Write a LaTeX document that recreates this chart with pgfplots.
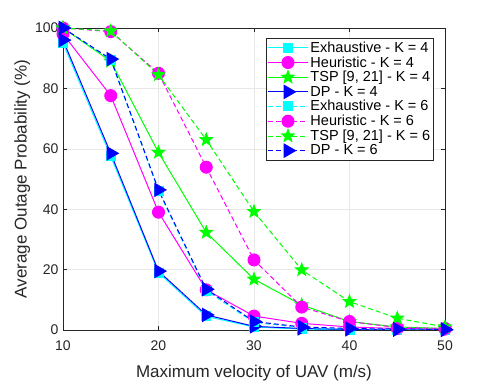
\documentclass[border=0pt]{standalone}
\usepackage{fontspec}
\setmainfont{Liberation Sans}
\usepackage{pgfplots}
\pgfplotsset{compat=1.18}

\definecolor{axgray}{rgb}{0.15,0.15,0.15}
\definecolor{mcyan}{rgb}{0,1,1}
\definecolor{mmag}{rgb}{1,0,1}
\definecolor{mgreen}{rgb}{0,1,0}
\definecolor{mblue}{rgb}{0,0,1}

% filled five-point star
\pgfdeclareplotmark{fstar}{%
  \pgfpathmoveto{\pgfpointpolar{90}{\pgfplotmarksize}}%
  \pgfpathlineto{\pgfpointpolar{126}{0.42\pgfplotmarksize}}%
  \pgfpathlineto{\pgfpointpolar{162}{\pgfplotmarksize}}%
  \pgfpathlineto{\pgfpointpolar{198}{0.42\pgfplotmarksize}}%
  \pgfpathlineto{\pgfpointpolar{234}{\pgfplotmarksize}}%
  \pgfpathlineto{\pgfpointpolar{270}{0.42\pgfplotmarksize}}%
  \pgfpathlineto{\pgfpointpolar{306}{\pgfplotmarksize}}%
  \pgfpathlineto{\pgfpointpolar{342}{0.42\pgfplotmarksize}}%
  \pgfpathlineto{\pgfpointpolar{18}{\pgfplotmarksize}}%
  \pgfpathlineto{\pgfpointpolar{54}{0.42\pgfplotmarksize}}%
  \pgfpathclose
  \pgfusepathqfillstroke}

% legend sample with a longer line, coloured explicitly
\pgfplotsset{leg/.style={legend image code/.code={%
  \draw[mark repeat=2, mark phase=2, line width=1pt, ##1, draw=#1]
    plot coordinates {(0pt,0pt) (20pt,0pt) (40pt,0pt)};}}}

\begin{document}
\begin{tikzpicture}
\begin{axis}[
  name=ax,
  scale only axis, width=382pt, height=302pt,
  xmin=10, xmax=50, ymin=0, ymax=100,
  xtick={10,20,...,50}, ytick={0,20,...,100},
  tick align=inside, major tick length=4pt,
  xtick pos=both, ytick pos=both,
  grid=major, grid style={gray!18, line width=0.5pt},
  axis line style={axgray, line width=0.5pt},
  tick style={axgray, line width=0.5pt},
  /pgf/number format/assume math mode=true,
  tick label style={font=\fontsize{14}{16}\selectfont, text=axgray},
  xticklabel style={yshift=-7pt},
  yticklabel style={xshift=-1pt},
  label style={font=\fontsize{17}{19}\selectfont, text=axgray},
  xlabel={Maximum velocity of UAV (m/s)},
  ylabel={Average Outage Probability (\%)},
  xlabel style={yshift=-8pt},
  ylabel style={yshift=-2pt},
  legend cell align=left,
  legend style={at={(0.971,0.967)}, anchor=north east,
    font=\fontsize{14.5}{16}\selectfont, draw=axgray, line width=0.5pt,
    row sep=-1.2pt, inner sep=1.5pt},
  every axis plot/.append style={line width=1pt},
]
% K = 4, solid
\addplot[mcyan, leg=mcyan, mark=square*, mark size=4.5pt, mark options={solid}] coordinates
  {(10,95) (15,57.5) (20,19) (25,4.5) (30,1) (35,0.3) (40,0.1) (45,0.05) (50,0)};
\addlegendentry{Exhaustive - K = 4}
\addplot[mmag, leg=mmag, mark=*, mark size=6pt, mark options={solid}] coordinates
  {(10,98) (15,77.6) (20,39) (25,13.3) (30,4.6) (35,2.2) (40,1) (45,0.5) (50,0.3)};
\addlegendentry{Heuristic - K = 4}
\addplot[mgreen, leg=mgreen, mark=fstar, mark size=6.5pt, mark options={solid, fill=mgreen}] coordinates
  {(10,100) (15,89) (20,58.8) (25,32.3) (30,16.8) (35,8.3) (40,2.8) (45,1) (50,0.5)};
\addlegendentry{TSP [9, 21] - K = 4}
\addplot[mblue, leg=mblue, mark=triangle*, mark size=7.5pt, mark options={solid, rotate=-90}] coordinates
  {(10,96) (15,58.5) (20,19.5) (25,5) (30,1.2) (35,0.5) (40,0.2) (45,0.1) (50,0)};
\addlegendentry{DP - K = 4}
% K = 6, dashed
\addplot[mcyan, leg=mcyan, dash pattern=on 5pt off 3pt, mark=square*, mark size=4.5pt, mark options={solid}] coordinates
  {(10,100) (15,89.5) (20,46) (25,13) (30,2.5) (35,0.8) (40,0.4) (45,0.2) (50,0.1)};
\addlegendentry{Exhaustive - K = 6}
\addplot[mmag, leg=mmag, dash pattern=on 5pt off 3pt, mark=*, mark size=6pt, mark options={solid}] coordinates
  {(10,100) (15,98.8) (20,85) (25,53.9) (30,23.2) (35,7.6) (40,2.8) (45,0.8) (50,0.5)};
\addlegendentry{Heuristic - K = 6}
\addplot[mgreen, leg=mgreen, dash pattern=on 5pt off 3pt, mark=fstar, mark size=6.5pt, mark options={solid, fill=mgreen}] coordinates
  {(10,100) (15,99) (20,84.5) (25,63) (30,39.2) (35,19.9) (40,9.4) (45,3.9) (50,1)};
\addlegendentry{TSP [9, 21] - K = 6}
\addplot[mblue, leg=mblue, dash pattern=on 5pt off 3pt, mark=triangle*, mark size=7.5pt, mark options={solid, rotate=-90}] coordinates
  {(10,100) (15,89.7) (20,46.4) (25,13.5) (30,2.8) (35,1) (40,0.5) (45,0.3) (50,0.2)};
\addlegendentry{DP - K = 6}
\end{axis}
\path ([shift={(-63pt,-52pt)}]ax.south west) rectangle ([shift={(46pt,28pt)}]ax.north east);
\end{tikzpicture}
\end{document}
